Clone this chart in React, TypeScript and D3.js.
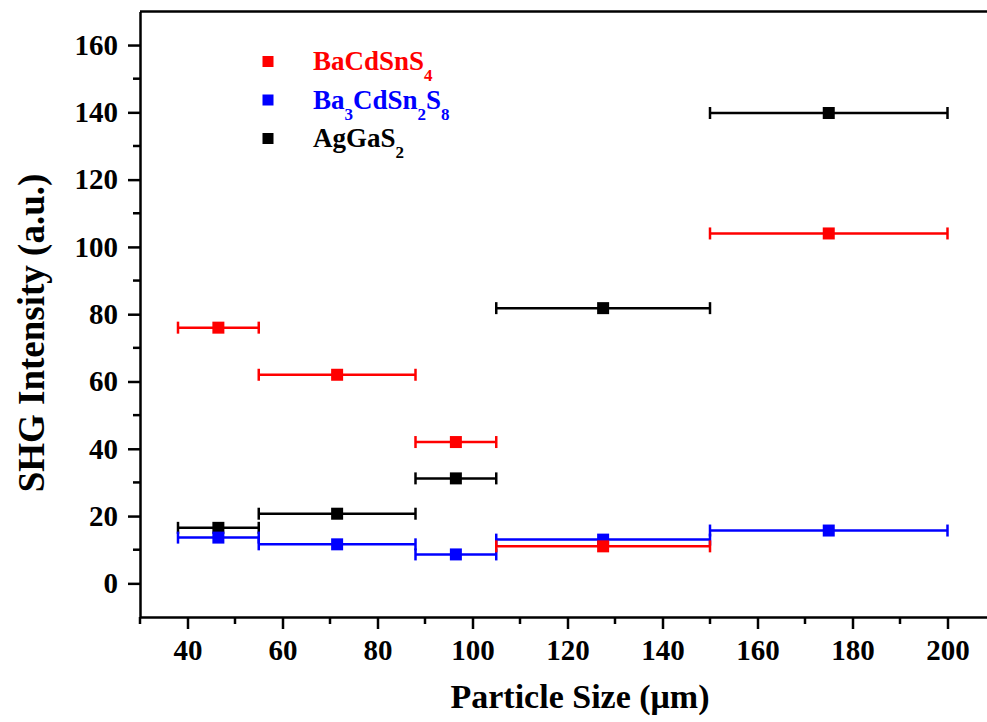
import * as d3 from "d3";
import { useEffect, useRef } from "react";

// particle size ranges (um) and their midpoints
const sizeMin = [38, 55, 88, 105, 150];
const sizeMax = [55, 88, 105, 150, 200];
const sizeMid = [46.5, 71.5, 96.5, 127.5, 175];

// SHG intensities (a.u.)
const agGaS2 = [16.5, 20.7, 31.2, 81.8, 139.8];
const ba3CdSn2S8 = [13.6, 11.6, 8.6, 13.0, 15.7];
const baCdSnS4 = [76, 62, 42, 11.0, 104];

const xMajor = [40, 60, 80, 100, 120, 140, 160, 180, 200];
const xMinor = [30, 50, 70, 90, 110, 130, 150, 170, 190];
const yMajor = [0, 20, 40, 60, 80, 100, 120, 140, 160];
const yMinor = [10, 30, 50, 70, 90, 110, 130, 150];

const FONT = "Liberation Serif, Times New Roman, serif";

// draw order: black first, red on top
const series = [
  { name: "AgGaS2", parts: [["AgGaS", ""], ["2", "sub"]], color: "#000000", values: agGaS2 },
  {
    name: "Ba3CdSn2S8",
    parts: [["Ba", ""], ["3", "sub"], ["CdSn", ""], ["2", "sub"], ["S", ""], ["8", "sub"]],
    color: "#0000ff",
    values: ba3CdSn2S8,
  },
  { name: "BaCdSnS4", parts: [["BaCdSnS", ""], ["4", "sub"]], color: "#ff0000", values: baCdSnS4 },
];
const legendOrder = [2, 1, 0];

const W = 987;
const H = 722;

const App = () => {
  const ref = useRef<SVGSVGElement>(null);

  useEffect(() => {
    const svg = d3.select(ref.current);
    svg.selectAll("*").remove();

    const x = d3.scaleLinear().domain([30, 210]).range([140, 995]);
    const y = d3.scaleLinear().domain([-10, 170]).range([617, 11.4]);

    // axes
    const xAxis = d3
      .axisBottom(x)
      .tickValues(xMajor)
      .tickSize(12)
      .tickSizeOuter(0)
      .tickPadding(10)
      .tickFormat(d3.format("d"));
    const gx = svg.append("g").attr("transform", `translate(0,${y(-10)})`).call(xAxis);
    gx.append("g")
      .selectAll("line")
      .data(xMinor)
      .enter()
      .append("line")
      .attr("x1", (d) => x(d))
      .attr("x2", (d) => x(d))
      .attr("y1", 0)
      .attr("y2", 7);

    const yAxis = d3
      .axisLeft(y)
      .tickValues(yMajor)
      .tickSize(12)
      .tickSizeOuter(0)
      .tickPadding(10)
      .tickFormat(d3.format("d"));
    const gy = svg.append("g").attr("transform", `translate(${x(30)},0)`).call(yAxis);
    gy.append("g")
      .selectAll("line")
      .data(yMinor)
      .enter()
      .append("line")
      .attr("y1", (d) => y(d))
      .attr("y2", (d) => y(d))
      .attr("x1", 0)
      .attr("x2", -7);

    [gx, gy].forEach((g) => {
      g.attr("font-family", FONT);
      g.selectAll("path, line").attr("stroke", "#000").attr("stroke-width", 2.5);
      g.selectAll("text")
        .attr("font-family", FONT)
        .attr("font-weight", "bold")
        .attr("font-size", 29)
        .attr("fill", "#000");
    });

    // frame top / right
    svg
      .append("line")
      .attr("x1", x(30))
      .attr("x2", x(210))
      .attr("y1", y(170))
      .attr("y2", y(170))
      .attr("stroke", "#000")
      .attr("stroke-width", 2.5);
    svg
      .append("line")
      .attr("x1", x(210))
      .attr("x2", x(210))
      .attr("y1", y(170))
      .attr("y2", y(-10))
      .attr("stroke", "#000")
      .attr("stroke-width", 2.5);

    // error bars + markers
    series.forEach((s) => {
      const g = svg.append("g").attr("stroke", s.color).attr("fill", s.color);
      s.values.forEach((v, i) => {
        const cy = y(v);
        g.append("line")
          .attr("x1", x(sizeMin[i]))
          .attr("x2", x(sizeMax[i]))
          .attr("y1", cy)
          .attr("y2", cy)
          .attr("stroke-width", 2.5);
        [sizeMin[i], sizeMax[i]].forEach((e) => {
          g.append("line")
            .attr("x1", x(e))
            .attr("x2", x(e))
            .attr("y1", cy - 6)
            .attr("y2", cy + 6)
            .attr("stroke-width", 2.5);
        });
        g.append("rect")
          .attr("x", x(sizeMid[i]) - 6)
          .attr("y", cy - 6)
          .attr("width", 12)
          .attr("height", 12)
          .attr("stroke", "none");
      });
    });

    // legend
    const legend = svg.append("g");
    legendOrder.forEach((si, k) => {
      const s = series[si];
      const by = 70 + k * 38.5;
      legend
        .append("rect")
        .attr("x", 262.5)
        .attr("y", by - 14)
        .attr("width", 11)
        .attr("height", 11)
        .attr("fill", s.color);
      const t = legend
        .append("text")
        .attr("x", 313)
        .attr("y", by)
        .attr("font-family", FONT)
        .attr("font-weight", "bold")
        .attr("font-size", 27)
        .attr("fill", s.color);
      let down = false;
      s.parts.forEach(([txt, kind]) => {
        const isSub = kind === "sub";
        let dy = 0;
        if (isSub && !down) dy = 11;
        if (!isSub && down) dy = -11;
        down = isSub;
        t.append("tspan")
          .attr("dy", dy)
          .attr("font-size", isSub ? 17 : 27)
          .text(txt);
      });
    });

    // axis titles
    svg
      .append("text")
      .attr("x", 580)
      .attr("y", 708)
      .attr("text-anchor", "middle")
      .attr("font-family", FONT)
      .attr("font-weight", "bold")
      .attr("font-size", 34)
      .text("Particle Size (\u03bcm)");
    svg
      .append("text")
      .attr("transform", "translate(44,333) rotate(-90)")
      .attr("text-anchor", "middle")
      .attr("font-family", FONT)
      .attr("font-weight", "bold")
      .attr("font-size", 37)
      .text("SHG Intensity (a.u.)");
  }, []);

  return (
    <svg
      ref={ref}
      width={W}
      height={H}
      style={{ position: "absolute", left: 0, top: 0, background: "white", display: "block" }}
    />
  );
};

export default App;
